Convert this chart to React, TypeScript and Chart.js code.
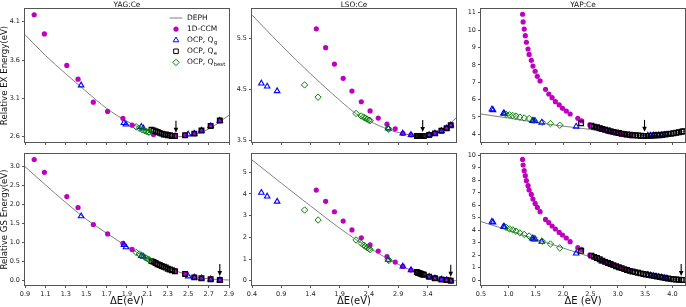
import React, { useEffect, useRef } from 'react';
import { Chart, registerables } from 'chart.js';

Chart.register(...registerables);

const FONT = 'DejaVu Sans';
const MAGENTA = '#bf00bf';
const BLUE = '#0000ff';
const GREEN = '#008000';
const BLACK = '#000000';
const GRAY = '#808080';

// ---------------- YAG:Ce ----------------
const yagDephX = [0.9, 1.1, 1.3, 1.5, 1.7, 1.9, 2.1, 2.3, 2.4, 2.5, 2.7, 2.9];
const yagDephEx = [3.93, 3.66, 3.42, 3.19, 2.97, 2.8, 2.68, 2.615, 2.6, 2.61, 2.7, 2.88];
const yagDephGs = [3.0, 2.52, 2.05, 1.61, 1.24, 0.89, 0.58, 0.32, 0.22, 0.13, 0.03, 0.0];
const yagCcmX = [0.99, 1.09, 1.31, 1.42, 1.57, 1.71, 1.86, 1.95, 2.16, 2.37, 2.47, 2.56, 2.63, 2.72, 2.81];
const yagCcmEx = [4.19, 3.94, 3.53, 3.35, 3.05, 2.93, 2.84, 2.75, 2.63, 2.62, 2.62, 2.64, 2.68, 2.74, 2.81];
const yagCcmGs = [3.19, 2.85, 2.21, 1.92, 1.47, 1.22, 0.97, 0.81, 0.48, 0.24, 0.16, 0.08, 0.04, 0.02, 0.0];
const yagQgX = [1.45, 1.87, 1.89, 2.04, 2.06, 2.5, 2.56, 2.63, 2.72, 2.81];
const yagQgEx = [3.27, 2.78, 2.76, 2.73, 2.71, 2.63, 2.64, 2.68, 2.74, 2.81];
const yagQgGs = [1.69, 0.93, 0.87, 0.64, 0.62, 0.1, 0.07, 0.045, 0.02, 0.0];
const yagQeX = [2.14, 2.16, 2.18, 2.2, 2.22, 2.24, 2.26, 2.28, 2.3, 2.32, 2.34, 2.37, 2.47, 2.56, 2.63, 2.72, 2.81];
const yagQeEx = [2.69, 2.68, 2.67, 2.66, 2.65, 2.64, 2.63, 2.63, 2.62, 2.62, 2.61, 2.61, 2.62, 2.64, 2.68, 2.74, 2.81];
const yagQeGs = [0.5, 0.48, 0.45, 0.42, 0.4, 0.37, 0.35, 0.33, 0.3, 0.28, 0.26, 0.23, 0.16, 0.07, 0.045, 0.02, 0.0];
const yagQbX = [1.99, 2.02, 2.05, 2.07, 2.09, 2.11, 2.12];
const yagQbEx = [2.73, 2.71, 2.69, 2.68, 2.67, 2.66, 2.66];
const yagQbGs = [0.73, 0.69, 0.64, 0.61, 0.58, 0.55, 0.53];
const yagArrowEx = [2.38, 2.6];
const yagArrowGs = [2.81, 0.0];
const yagXTicks = [0.9, 1.1, 1.3, 1.5, 1.7, 1.9, 2.1, 2.3, 2.5, 2.7, 2.9];
const yagExTicks = [2.6, 3.1, 3.6, 4.1];
const yagGsTicks = [0, 0.5, 1.0, 1.5, 2.0, 2.5, 3.0];

// ---------------- LSO:Ce ----------------
const lsoDephX = [0.4, 0.9, 1.4, 1.9, 2.2, 2.5, 2.8, 3.1, 3.32, 3.6, 3.89];
const lsoDephEx = [5.95, 5.36, 4.8, 4.28, 4.0, 3.82, 3.68, 3.6, 3.58, 3.65, 3.93];
const lsoDephGsX = [0.4, 0.9, 1.4, 1.9, 2.2, 2.5, 2.8, 3.1, 3.4, 3.65, 3.8, 3.89];
const lsoDephGs = [5.57, 4.5, 3.45, 2.42, 1.86, 1.36, 0.9, 0.5, 0.2, 0.04, 0.0, 0.0];
const lsoCcmX = [1.5, 1.66, 1.81, 1.96, 2.11, 2.27, 2.42, 2.56, 2.71, 2.85, 2.98, 3.12, 3.27, 3.43, 3.53, 3.64, 3.73, 3.8];
const lsoCcmEx = [5.68, 5.31, 4.99, 4.71, 4.46, 4.25, 4.07, 3.93, 3.81, 3.72, 3.63, 3.6, 3.58, 3.6, 3.63, 3.68, 3.73, 3.79];
const lsoCcmGs = [4.18, 3.66, 3.18, 2.75, 2.34, 1.98, 1.65, 1.37, 1.11, 0.86, 0.66, 0.49, 0.32, 0.18, 0.11, 0.06, 0.03, 0.0];
const lsoQgX = [0.56, 0.66, 0.83, 2.73, 2.98, 3.12, 3.43, 3.53, 3.64, 3.73, 3.8];
const lsoQgEx = [4.61, 4.55, 4.46, 3.73, 3.63, 3.6, 3.6, 3.63, 3.68, 3.73, 3.79];
const lsoQgGs = [4.06, 3.89, 3.65, 0.97, 0.66, 0.49, 0.18, 0.11, 0.06, 0.03, 0.0];
const lsoQeX = [3.22, 3.24, 3.26, 3.28, 3.3, 3.32, 3.34, 3.43, 3.53, 3.64, 3.73, 3.8];
const lsoQeEx = [3.58, 3.58, 3.58, 3.58, 3.58, 3.58, 3.58, 3.6, 3.63, 3.68, 3.73, 3.79];
const lsoQeGs = [0.4, 0.37, 0.35, 0.33, 0.31, 0.29, 0.27, 0.18, 0.11, 0.06, 0.03, 0.0];
const lsoQbX = [1.3, 1.53, 2.18, 2.27, 2.31, 2.34, 2.37, 2.4, 2.42, 2.73, 2.74];
const lsoQbEx = [4.58, 4.34, 4.02, 3.97, 3.95, 3.93, 3.91, 3.89, 3.88, 3.73, 3.71];
const lsoQbGs = [3.26, 2.8, 1.88, 1.72, 1.64, 1.58, 1.53, 1.48, 1.44, 0.98, 0.93];
const lsoArrowEx = [3.32, 3.58];
const lsoArrowGs = [3.8, 0.0];
const lsoXTicks = [0.4, 0.9, 1.4, 1.9, 2.4, 2.9, 3.4];
const lsoExTicks = [3.5, 4.5, 5.5];
const lsoGsTicks = [0, 1, 2, 3, 4, 5];

// ---------------- YAP:Ce ----------------
const yapDephX = [0.5, 1.0, 1.5, 2.0, 2.5, 2.8, 3.0, 3.2, 3.5, 3.8, 4.0, 4.23];
const yapDephEx = [5.17, 4.93, 4.69, 4.47, 4.28, 4.14, 4.06, 4.0, 3.93, 3.95, 4.03, 4.18];
const yapDephGsX = [0.5, 1.0, 1.5, 2.0, 2.5, 3.0, 3.5, 4.0, 4.2, 4.23];
const yapDephGs = [4.67, 3.98, 3.27, 2.56, 1.85, 1.12, 0.5, 0.08, 0.0, 0.0];
const yapCcmX = [1.26, 1.27, 1.29, 1.31, 1.33, 1.36, 1.38, 1.42, 1.45, 1.49, 1.53, 1.58, 1.68, 1.74, 1.8, 1.86, 1.93, 1.99, 2.06, 2.13, 2.27, 2.34, 2.49, 2.59, 2.68, 2.76, 2.83, 2.9, 2.98, 3.05, 3.13, 3.23];
const yapCcmEx = [10.91, 10.47, 10.06, 9.68, 9.3, 8.91, 8.6, 8.26, 7.93, 7.63, 7.34, 7.07, 6.59, 6.32, 6.11, 5.88, 5.69, 5.5, 5.34, 5.17, 4.92, 4.78, 4.54, 4.44, 4.35, 4.25, 4.19, 4.12, 4.06, 4.0, 3.96, 3.92];
const yapCcmGs = [9.65, 9.2, 8.75, 8.35, 7.95, 7.55, 7.2, 6.85, 6.48, 6.13, 5.81, 5.47, 4.85, 4.59, 4.32, 4.08, 3.81, 3.6, 3.36, 3.07, 2.59, 2.45, 2.0, 1.82, 1.62, 1.45, 1.33, 1.22, 1.08, 0.97, 0.85, 0.72];
const yapQgX = [0.7, 0.72, 0.91, 0.93, 1.44, 1.46, 1.49, 1.61, 2.24, 2.71, 2.85, 3.55, 3.6, 3.65, 3.7, 3.75, 3.8, 3.85, 3.9];
const yapQgEx = [5.44, 5.4, 5.21, 5.19, 4.78, 4.77, 4.76, 4.68, 4.45, 4.3, 4.17, 3.93, 3.93, 3.94, 3.94, 3.95, 3.96, 3.97, 3.98];
const yapQgGs = [4.67, 4.62, 4.27, 4.25, 3.33, 3.27, 3.25, 3.07, 2.13, 1.5, 1.3, 0.41, 0.37, 0.33, 0.29, 0.25, 0.21, 0.17, 0.13];
const yapQeX = [2.33, 2.52, 2.57, 2.62, 2.67, 2.72, 2.77, 2.82, 2.87, 2.92, 2.97, 3.02, 3.07, 3.12, 3.17, 3.22, 3.27, 3.32, 3.37, 3.42, 3.47, 3.52, 3.57, 3.62, 3.67, 3.72, 3.77, 3.82, 3.87, 3.92, 3.97, 4.02, 4.07, 4.12, 4.17, 4.2];
const yapQeEx = [4.63, 4.49, 4.44, 4.4, 4.35, 4.31, 4.26, 4.22, 4.18, 4.14, 4.1, 4.07, 4.04, 4.01, 3.99, 3.97, 3.95, 3.94, 3.93, 3.92, 3.91, 3.91, 3.91, 3.92, 3.93, 3.94, 3.95, 3.97, 3.99, 4.01, 4.03, 4.06, 4.09, 4.12, 4.15, 4.17];
const yapQeGs = [2.33, 1.95, 1.85, 1.76, 1.66, 1.55, 1.45, 1.36, 1.28, 1.19, 1.1, 1.02, 0.95, 0.87, 0.8, 0.73, 0.68, 0.63, 0.58, 0.53, 0.48, 0.44, 0.39, 0.35, 0.31, 0.27, 0.23, 0.19, 0.15, 0.12, 0.09, 0.06, 0.04, 0.02, 0.01, 0.0];
const yapQbX = [0.96, 1.02, 1.08, 1.14, 1.21, 1.29, 1.38, 1.47, 1.62, 1.77, 1.94];
const yapQbEx = [5.15, 5.12, 5.08, 5.05, 4.99, 4.94, 4.91, 4.81, 4.69, 4.62, 4.52];
const yapQbGs = [4.21, 4.09, 4.01, 3.9, 3.77, 3.65, 3.52, 3.36, 3.1, 2.88, 2.57];
const yapArrowEx = [3.49, 3.91];
const yapArrowGs = [4.16, 0.0];
const yapXTicks = [0.5, 1.0, 1.5, 2.0, 2.5, 3.0, 3.5, 4.0];
const yapExTicks = [4, 5, 6, 7, 8, 9, 10, 11];
const yapGsTicks = [0, 1, 2, 3, 4, 5, 6, 7, 8, 9, 10];

const pts = (xs: number[], ys: number[]) => xs.map((x, i) => ({ x, y: ys[i] }));

type XY = { x: number[]; y: number[] };
interface PanelDef {
  left: number; top: number; yw: number; xh: number; padTop: number; padRight: number;
  plotW: number; plotH: number;
  xMin: number; xMax: number; yMin: number; yMax: number;
  xTicks: number[]; yTicks: number[]; xDec: number; yDec: number; showXLabels: boolean;
  deph: XY; ccm: XY; qg: XY; qe: XY; qb: XY; arrow: number[];
  title?: string; ylabel?: string; xlabel?: string; legend?: boolean;
}

function drawMarker(ctx: CanvasRenderingContext2D, kind: string, x: number, y: number) {
  ctx.beginPath();
  if (kind === 'circle') {
    ctx.fillStyle = MAGENTA;
    ctx.arc(x, y, 2.6, 0, Math.PI * 2);
    ctx.fill();
    return;
  }
  ctx.lineWidth = 1;
  if (kind === 'triangle') {
    ctx.strokeStyle = BLUE;
    ctx.moveTo(x, y - 3.2);
    ctx.lineTo(x + 2.8, y + 1.6);
    ctx.lineTo(x - 2.8, y + 1.6);
    ctx.closePath();
  } else if (kind === 'rect') {
    ctx.strokeStyle = BLACK;
    ctx.rect(x - 2.3, y - 2.3, 4.6, 4.6);
  } else {
    ctx.strokeStyle = GREEN;
    ctx.moveTo(x, y - 3.2);
    ctx.lineTo(x + 3.2, y);
    ctx.lineTo(x, y + 3.2);
    ctx.lineTo(x - 3.2, y);
    ctx.closePath();
  }
  ctx.stroke();
}

function makeDecor(def: PanelDef) {
  return {
    id: 'decor',
    afterDatasetsDraw(chart: any) {
      const ctx: CanvasRenderingContext2D = chart.ctx;
      const a = chart.chartArea;
      const sx = chart.scales.x;
      const sy = chart.scales.y;
      ctx.save();
      ctx.strokeStyle = '#555';
      ctx.lineWidth = 1;
      ctx.strokeRect(Math.round(a.left) - 0.5, Math.round(a.top) - 0.5, Math.round(a.right - a.left) + 1, Math.round(a.bottom - a.top) + 1);
      const px = sx.getPixelForValue(def.arrow[0]);
      const py = sy.getPixelForValue(def.arrow[1]);
      ctx.strokeStyle = BLACK;
      ctx.fillStyle = BLACK;
      ctx.lineWidth = 1.1;
      ctx.beginPath();
      ctx.moveTo(px, py - 16);
      ctx.lineTo(px, py - 8);
      ctx.stroke();
      ctx.beginPath();
      ctx.moveTo(px - 2.3, py - 9);
      ctx.lineTo(px + 2.3, py - 9);
      ctx.lineTo(px, py - 4);
      ctx.closePath();
      ctx.fill();
      ctx.fillStyle = '#111';
      if (def.title) {
        ctx.font = `7.4px "${FONT}"`;
        ctx.textAlign = 'center';
        ctx.textBaseline = 'alphabetic';
        ctx.fillText(def.title, (a.left + a.right) / 2, a.top - 2.5);
      }
      if (def.xlabel) {
        ctx.font = `10px "${FONT}"`;
        ctx.textAlign = 'center';
        ctx.textBaseline = 'middle';
        ctx.fillText(def.xlabel, (a.left + a.right) / 2, a.bottom + 16.5);
      }
      if (def.ylabel) {
        ctx.save();
        ctx.translate(5, (a.top + a.bottom) / 2);
        ctx.rotate(-Math.PI / 2);
        ctx.font = `8.6px "${FONT}"`;
        ctx.textAlign = 'center';
        ctx.textBaseline = 'middle';
        ctx.fillText(def.ylabel, 0, 0);
        ctx.restore();
      }
      if (def.legend) {
        const mx = a.left + 151;
        const tx = a.left + 162;
        const rows = [0, 1, 2, 3, 4].map((i) => a.top + 9 + i * 11.1);
        ctx.strokeStyle = GRAY;
        ctx.lineWidth = 1;
        ctx.beginPath();
        ctx.moveTo(mx - 6.5, rows[0]);
        ctx.lineTo(mx + 6.5, rows[0]);
        ctx.stroke();
        drawMarker(ctx, 'circle', mx, rows[1]);
        drawMarker(ctx, 'triangle', mx, rows[2]);
        drawMarker(ctx, 'rect', mx, rows[3]);
        drawMarker(ctx, 'diamond', mx, rows[4]);
        const labels = [['DEPH', ''], ['1D-CCM', ''], ['OCP, Q', 'g'], ['OCP, Q', 'e'], ['OCP, Q', 'best']];
        ctx.fillStyle = '#111';
        ctx.textAlign = 'left';
        ctx.textBaseline = 'middle';
        labels.forEach(([main, sub], i) => {
          ctx.font = `7.5px "${FONT}"`;
          ctx.fillText(main, tx, rows[i]);
          if (sub) {
            const w = ctx.measureText(main).width;
            ctx.font = `5.4px "${FONT}"`;
            ctx.fillText(sub, tx + w + 0.3, rows[i] + 2.4);
          }
        });
      }
      ctx.restore();
    },
  };
}

function Panel({ def }: { def: PanelDef }) {
  const ref = useRef<HTMLCanvasElement | null>(null);
  const width = def.yw + def.plotW + def.padRight;
  const height = def.padTop + def.plotH + def.xh;
  useEffect(() => {
    if (!ref.current) return;
    const tickFont = { family: FONT, size: 6.5 };
    const chart = new Chart(ref.current, {
      type: 'scatter',
      data: {
        datasets: [
          {
            label: 'DEPH', data: pts(def.deph.x, def.deph.y), showLine: true, borderColor: GRAY, borderWidth: 1,
            pointRadius: 0, cubicInterpolationMode: 'monotone', order: 5,
          } as any,
          {
            label: '1D-CCM', data: pts(def.ccm.x, def.ccm.y), pointStyle: 'circle', pointRadius: 2.6,
            pointBackgroundColor: MAGENTA, pointBorderColor: MAGENTA, pointBorderWidth: 0, order: 4,
          },
          {
            label: 'OCP, Qg', data: pts(def.qg.x, def.qg.y), pointStyle: 'triangle', pointRadius: 3.2,
            pointBackgroundColor: 'rgba(0,0,0,0)', pointBorderColor: BLUE, pointBorderWidth: 1.1, order: 3,
          },
          {
            label: 'OCP, Qe', data: pts(def.qe.x, def.qe.y), pointStyle: 'rect', pointRadius: 3.3,
            pointBackgroundColor: 'rgba(0,0,0,0)', pointBorderColor: BLACK, pointBorderWidth: 1.3, order: 2,
          },
          {
            label: 'OCP, Qbest', data: pts(def.qb.x, def.qb.y), pointStyle: 'rectRot', pointRadius: 3.2,
            pointBackgroundColor: 'rgba(0,0,0,0)', pointBorderColor: GREEN, pointBorderWidth: 1, order: 1,
          },
        ],
      },
      options: {
        responsive: false,
        animation: false,
        devicePixelRatio: 1,
        events: [],
        layout: { padding: { top: def.padTop, right: def.padRight, left: 0, bottom: 0 } },
        plugins: { legend: { display: false }, title: { display: false }, tooltip: { enabled: false } },
        scales: {
          x: {
            type: 'linear', min: def.xMin, max: def.xMax, bounds: 'data',
            afterBuildTicks: (s: any) => { s.ticks = def.xTicks.map((v) => ({ value: v })); },
            afterFit: (s: any) => { s.height = def.xh; },
            grid: { display: true, drawOnChartArea: false, drawTicks: true, tickLength: 3, color: '#555', lineWidth: 1 },
            border: { display: false },
            ticks: {
              display: def.showXLabels, font: tickFont, color: '#222', padding: 2.5, maxRotation: 0, autoSkip: false,
              callback: (v: any) => Number(v).toFixed(def.xDec),
            },
          },
          y: {
            type: 'linear', min: def.yMin, max: def.yMax, bounds: 'data',
            afterBuildTicks: (s: any) => { s.ticks = def.yTicks.map((v) => ({ value: v })); },
            afterFit: (s: any) => { s.width = def.yw; },
            grid: { display: true, drawOnChartArea: false, drawTicks: true, tickLength: 3, color: '#555', lineWidth: 1 },
            border: { display: false },
            ticks: {
              font: tickFont, color: '#222', padding: 2, autoSkip: false,
              callback: (v: any) => Number(v).toFixed(def.yDec),
            },
          },
        },
      } as any,
      plugins: [makeDecor(def)],
    });
    return () => chart.destroy();
  }, [def]);
  return (
    <canvas
      ref={ref}
      width={width}
      height={height}
      style={{ position: 'absolute', left: def.left, top: def.top, width, height }}
    />
  );
}

const base = { plotW: 204, padRight: 8 };
const row1 = { top: 0, padTop: 9, plotH: 133, xh: 8, showXLabels: false };
const row2 = { top: 144, padTop: 10, plotH: 131, xh: 22, showXLabels: true };

const panels: PanelDef[] = [
  {
    ...base, ...row1, left: 0, yw: 25, xMin: 0.9, xMax: 2.9, yMin: 2.531, yMax: 4.265,
    xTicks: yagXTicks, yTicks: yagExTicks, xDec: 1, yDec: 1,
    deph: { x: yagDephX, y: yagDephEx }, ccm: { x: yagCcmX, y: yagCcmEx }, qg: { x: yagQgX, y: yagQgEx },
    qe: { x: yagQeX, y: yagQeEx }, qb: { x: yagQbX, y: yagQbEx }, arrow: yagArrowEx,
    title: 'YAG:Ce', ylabel: 'Relative EX Energy(eV)', legend: true,
  },
  {
    ...base, ...row2, left: 0, yw: 25, xMin: 0.9, xMax: 2.9, yMin: -0.132, yMax: 3.336,
    xTicks: yagXTicks, yTicks: yagGsTicks, xDec: 1, yDec: 1,
    deph: { x: yagDephX, y: yagDephGs }, ccm: { x: yagCcmX, y: yagCcmGs }, qg: { x: yagQgX, y: yagQgGs },
    qe: { x: yagQeX, y: yagQeGs }, qb: { x: yagQbX, y: yagQbGs }, arrow: yagArrowGs,
    ylabel: 'Relative GS Energy(eV)', xlabel: 'ΔE(eV)',
  },
  {
    ...base, ...row1, left: 230, yw: 22, xMin: 0.4, xMax: 3.89, yMin: 3.461, yMax: 6.069,
    xTicks: lsoXTicks, yTicks: lsoExTicks, xDec: 1, yDec: 1,
    deph: { x: lsoDephX, y: lsoDephEx }, ccm: { x: lsoCcmX, y: lsoCcmEx }, qg: { x: lsoQgX, y: lsoQgEx },
    qe: { x: lsoQeX, y: lsoQeEx }, qb: { x: lsoQbX, y: lsoQbEx }, arrow: lsoArrowEx,
    title: 'LSO:Ce',
  },
  {
    ...base, ...row2, left: 230, yw: 22, xMin: 0.4, xMax: 3.89, yMin: -0.198, yMax: 5.844,
    xTicks: lsoXTicks, yTicks: lsoGsTicks, xDec: 1, yDec: 0,
    deph: { x: lsoDephGsX, y: lsoDephGs }, ccm: { x: lsoCcmX, y: lsoCcmGs }, qg: { x: lsoQgX, y: lsoQgGs },
    qe: { x: lsoQeX, y: lsoQeGs }, qb: { x: lsoQbX, y: lsoQbGs }, arrow: lsoArrowGs,
    xlabel: 'ΔE(eV)',
  },
  {
    ...base, ...row1, left: 459, yw: 22, xMin: 0.5, xMax: 4.23, yMin: 3.557, yMax: 11.213,
    xTicks: yapXTicks, yTicks: yapExTicks, xDec: 1, yDec: 0,
    deph: { x: yapDephX, y: yapDephEx }, ccm: { x: yapCcmX, y: yapCcmEx }, qg: { x: yapQgX, y: yapQgEx },
    qe: { x: yapQeX, y: yapQeEx }, qb: { x: yapQbX, y: yapQbEx }, arrow: yapArrowEx,
    title: 'YAP:Ce',
  },
  {
    ...base, ...row2, left: 459, yw: 22, xMin: 0.5, xMax: 4.23, yMin: -0.4, yMax: 10.08,
    xTicks: yapXTicks, yTicks: yapGsTicks, xDec: 1, yDec: 0,
    deph: { x: yapDephGsX, y: yapDephGs }, ccm: { x: yapCcmX, y: yapCcmGs }, qg: { x: yapQgX, y: yapQgGs },
    qe: { x: yapQeX, y: yapQeGs }, qb: { x: yapQbX, y: yapQbGs }, arrow: yapArrowGs,
    xlabel: 'ΔE (eV)',
  },
];

export default function App() {
  return (
    <div style={{ position: 'fixed', left: 0, top: 0, width: 686, height: 307, overflow: 'hidden', background: '#fff' }}>
      {panels.map((p, i) => (
        <Panel key={i} def={p} />
      ))}
    </div>
  );
}
